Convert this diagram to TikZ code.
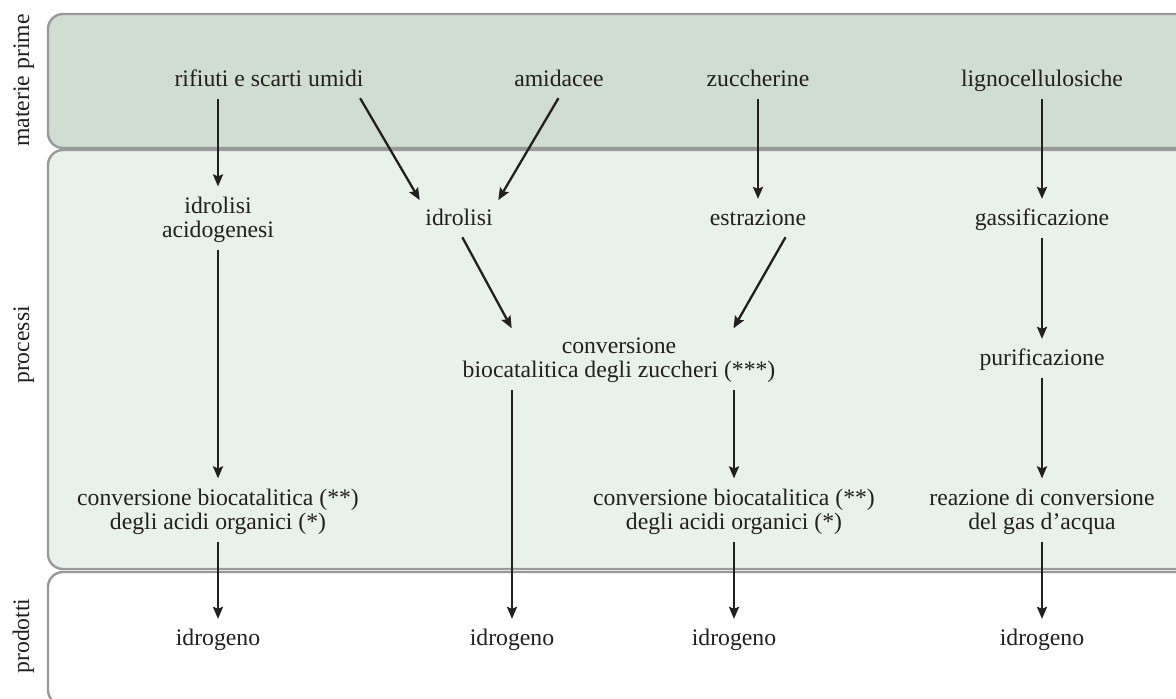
\documentclass[tikz,border=0pt]{standalone}
\usepackage{fontspec}
\setmainfont{Liberation Serif}
\usepackage{tikz}
\usetikzlibrary{positioning, calc}
\usetikzlibrary{arrows.meta}
\definecolor{rawfill}{HTML}{D0DDD1}
\definecolor{procfill}{HTML}{E8F2EA}
\definecolor{bandline}{HTML}{98999B}
\definecolor{ink}{HTML}{231F20}

\begin{document}
\begin{tikzpicture}[x=1pt,y=-1pt,shorten >=9pt,shorten <=7pt,-{Stealth[length=12pt,width=10pt,inset=2pt]},draw=ink,line width=2.3pt]
	\def \colA{218}
	\def \colD{1042}
	\tikzstyle{band}=[-,shorten >=0pt,shorten <=0pt,draw=bandline,line width=2.4pt,rounded corners=15pt]
	\tikzstyle{lbl}=[font=\fontsize{23.7}{24}\selectfont,text=ink,inner sep=0pt,anchor=base,text height=16pt,text depth=5pt]
	\tikzstyle{lbl2}=[font=\fontsize{23.7}{24}\selectfont,text=ink,inner sep=0pt,anchor=base,align=center]
	\tikzstyle{side}=[lbl,rotate=90]
	\useasboundingbox (0,0) rectangle (1176,699);

	% bands
	\draw[band,fill=rawfill]	(48,14)		rectangle (1200,148);
	\draw[band,fill=procfill]	(48,150)	rectangle (1200,569);
	\draw[band,fill=white]		(48,572)	rectangle (1200,705);

	% side labels
	\node[side] (raw-label)		at (29,80.5)	{materie prime};
	\node[side] (proc-label)	at (29,345)		{processi};
	\node[side] (prod-label)	at (29,636)		{prodotti};

	% materie prime
	\node[lbl] (rif)	at (269,86)		{rifiuti e scarti umidi};
	\node[lbl] (ami)	at (559,86)		{amidacee};
	\node[lbl] (zuc)	at (758,86)		{zuccherine};
	\node[lbl] (lig)	at (\colD,86)	{lignocellulosiche};

	% processi (two-line nodes sit on their last line)
	\node[lbl2] (idrac)	at (\colA,237)	{idrolisi\\acidogenesi};
	\node[lbl] (idr)	at (459,225)	{idrolisi};
	\node[lbl] (estr)	at (758,225)	{estrazione};
	\node[lbl] (gas)	at (\colD,225)	{gassificazione};
	\node[lbl2] (conv)	at (619,377)	{conversione\\biocatalitica degli zuccheri (***)};
	\node[lbl] (pur)	at (\colD,365)	{purificazione};
	\node[lbl2] (cba1)	at (\colA,529)	{conversione biocatalitica (**)\\degli acidi organici (*)};
	\node[lbl2] (cba2)	at (734,529)	{conversione biocatalitica (**)\\degli acidi organici (*)};
	\node[lbl2] (wgs)	at (\colD,529)	{reazione di conversione\\del gas d’acqua};

	% prodotti
	\node[lbl] (h1)	at (\colA,645)	{idrogeno};
	\node[lbl] (h2)	at (512,645)	{idrogeno};
	\node[lbl] (h3)	at (734,645)	{idrogeno};
	\node[lbl] (h4)	at (\colD,645)	{idrogeno};

	% flows
	\draw (rif.south -| idrac.north)		-- (idrac.north);
	\draw ([xshift=-8pt]rif.south east)		-- (idr.north west);
	\draw ([xshift=3pt]ami.south)			-- (idr.north east);
	\draw (zuc.south)						-- (estr.north);
	\draw (lig.south)						-- (gas.north);
	\draw (idrac.south)						-- (cba1.north);
	\draw (idr.south)						-- ([xshift=-103pt]conv.north);
	\draw ([xshift=31pt]estr.south)			-- ([xshift=110pt]conv.north);
	\draw (gas.south)						-- (pur.north);
	\draw (conv.south -| h2.north)			-- (h2.north);
	\draw (conv.south -| cba2.north)		-- (cba2.north);
	\draw (pur.south)						-- (wgs.north);
	\draw (cba1.south)						-- (h1.north);
	\draw (cba2.south)						-- (h3.north);
	\draw (wgs.south)						-- (h4.north);
\end{tikzpicture}
\end{document}
